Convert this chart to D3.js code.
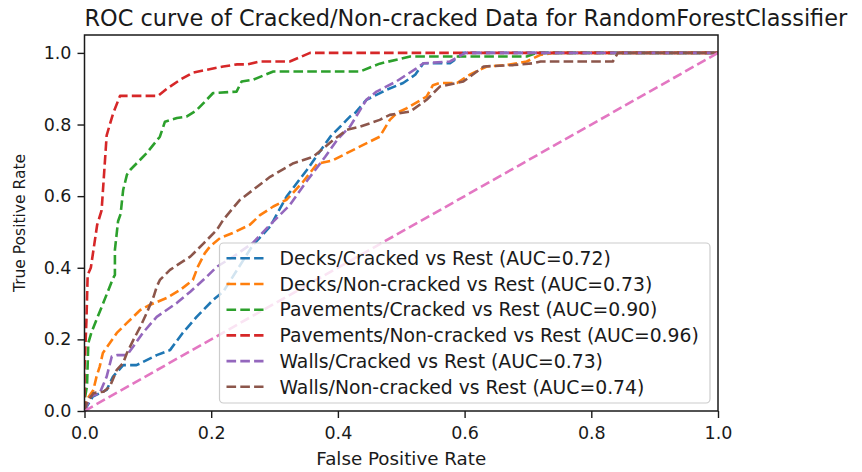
<!DOCTYPE html>
<html><head><meta charset="utf-8">
<script src="https://cdn.jsdelivr.net/npm/d3@7"></script>
<style>
body{margin:0;background:#fff;}
text{font-family:"DejaVu Sans",sans-serif;fill:#1a1a1a;}
</style>
</head><body>
<svg id="chart" width="862" height="472"></svg>
<script>
// ---------- data ----------
const chartTitle = "ROC curve of Cracked/Non-cracked Data for RandomForestClassifier";
const xLabel = "False Positive Rate";
const yLabel = "True Positive Rate";
const seriesNames = ["Decks/Cracked", "Decks/Non-cracked", "Pavements/Cracked",
  "Pavements/Non-cracked", "Walls/Cracked", "Walls/Non-cracked"];
const aucValues = [0.72, 0.73, 0.90, 0.96, 0.73, 0.74];
const seriesColors = ["#1f77b4", "#ff7f0e", "#2ca02c", "#d62728", "#9467bd", "#8c564b"];
const chanceColor = "#e377c2";
const xTicks = [0, 0.2, 0.4, 0.6, 0.8, 1.0];
const yTicks = [0, 0.2, 0.4, 0.6, 0.8, 1.0];

// [fpr, tpr]
const decksCracked = [[0,0],[0.0035,0.012],[0.013,0.04],[0.035,0.059],[0.045,0.096],[0.061,0.128],[0.082,0.128],
  [0.114,0.156],[0.135,0.17],[0.155,0.218],[0.177,0.263],[0.203,0.31],[0.219,0.333],[0.266,0.464],[0.293,0.515],
  [0.319,0.599],[0.351,0.673],[0.388,0.766],[0.414,0.813],[0.419,0.822],[0.427,0.832],[0.445,0.869],[0.477,0.897],
  [0.503,0.916],[0.522,0.939],[0.535,0.971],[0.577,0.971],[0.588,0.985],[0.597,1.0],[1,1]];
const decksNonCracked = [[0,0],[0.0035,0.031],[0.014,0.059],[0.019,0.096],[0.024,0.124],[0.029,0.162],[0.04,0.19],
  [0.051,0.218],[0.067,0.246],[0.077,0.263],[0.088,0.282],[0.103,0.296],[0.13,0.316],[0.151,0.338],[0.171,0.366],
  [0.179,0.403],[0.19,0.441],[0.198,0.459],[0.214,0.483],[0.234,0.497],[0.261,0.52],[0.277,0.547],[0.298,0.571],
  [0.319,0.59],[0.345,0.64],[0.367,0.69],[0.392,0.70],[0.414,0.72],[0.44,0.743],[0.466,0.766],[0.482,0.813],
  [0.493,0.832],[0.509,0.846],[0.54,0.878],[0.55,0.91],[0.561,0.916],[0.588,0.916],[0.608,0.939],[0.635,0.962],
  [0.666,0.966],[0.698,0.976],[0.719,0.994],[0.74,1.0],[1,1]];
const pavementsCracked = [[0,0],[0,0.03],[0.004,0.07],[0.006,0.19],[0.011,0.22],[0.027,0.29],[0.045,0.37],
  [0.048,0.38],[0.048,0.45],[0.053,0.53],[0.057,0.55],[0.061,0.617],[0.067,0.66],[0.072,0.673],[0.077,0.682],
  [0.098,0.72],[0.119,0.766],[0.127,0.808],[0.146,0.818],[0.161,0.822],[0.177,0.84],[0.203,0.888],[0.24,0.892],
  [0.248,0.92],[0.266,0.925],[0.298,0.948],[0.435,0.948],[0.466,0.97],[0.514,0.99],[0.698,0.99],[0.714,1.0],[1,1]];
const pavementsNonCracked = [[0,0],[0,0.12],[0.003,0.25],[0.005,0.38],[0.01,0.40],[0.02,0.52],[0.027,0.56],
  [0.035,0.77],[0.045,0.83],[0.056,0.88],[0.116,0.88],[0.13,0.90],[0.151,0.925],[0.171,0.945],[0.193,0.953],
  [0.219,0.962],[0.241,0.968],[0.257,0.968],[0.277,0.976],[0.324,0.976],[0.356,1.0],[1,1]];
const wallsCracked = [[0,0],[0.005,0.02],[0.009,0.04],[0.024,0.05],[0.035,0.096],[0.043,0.152],[0.051,0.156],
  [0.067,0.156],[0.077,0.18],[0.092,0.218],[0.114,0.263],[0.146,0.302],[0.167,0.333],[0.193,0.375],[0.209,0.403],
  [0.235,0.431],[0.266,0.47],[0.293,0.52],[0.324,0.575],[0.35,0.64],[0.38,0.71],[0.40,0.76],[0.419,0.794],
  [0.445,0.869],[0.461,0.892],[0.492,0.92],[0.524,0.957],[0.535,0.971],[0.577,0.976],[0.601,1.0],[1,1]];
const wallsNonCracked = [[0,0],[0.0035,0.022],[0.014,0.05],[0.03,0.054],[0.04,0.068],[0.051,0.115],[0.061,0.134],
  [0.067,0.162],[0.077,0.198],[0.088,0.235],[0.098,0.273],[0.109,0.319],[0.114,0.347],[0.119,0.366],[0.135,0.394],
  [0.151,0.413],[0.167,0.431],[0.188,0.468],[0.209,0.506],[0.219,0.534],[0.245,0.589],[0.293,0.654],[0.33,0.692],
  [0.361,0.71],[0.393,0.757],[0.414,0.785],[0.435,0.794],[0.466,0.813],[0.482,0.827],[0.514,0.836],[0.54,0.869],
  [0.561,0.906],[0.598,0.92],[0.63,0.962],[0.677,0.966],[0.708,0.971],[0.72,0.976],[0.834,0.976],[0.842,1.0],[1,1]];
const chanceLine = [[0,0],[1,1]];

const seriesData = [decksCracked, decksNonCracked, pavementsCracked, pavementsNonCracked, wallsCracked, wallsNonCracked];

// ---------- layout ----------
const svg = d3.select("#chart");
const plot = {left: 84.5, right: 718, top: 35, bottom: 411};
const x = d3.scaleLinear().domain([0, 1]).range([plot.left, plot.right]);
const y = d3.scaleLinear().domain([0, 1.05]).range([plot.bottom, plot.top]);

const lineWidth = 2.6;
const dash = "9.6,4.2";

const line = d3.line().x(d => x(d[0])).y(d => y(d[1]));

svg.append("clipPath").attr("id", "clip").append("rect")
  .attr("x", plot.left).attr("y", plot.top - 2)
  .attr("width", plot.right - plot.left + 2).attr("height", plot.bottom - plot.top + 4);

const lines = svg.append("g").attr("clip-path", "url(#clip)");
seriesData.forEach((d, i) => {
  lines.append("path").datum(d).attr("d", line)
    .attr("fill", "none").attr("stroke", seriesColors[i])
    .attr("stroke-width", lineWidth).attr("stroke-dasharray", dash)
    .attr("stroke-linejoin", "round");
});
lines.append("path").datum(chanceLine).attr("d", line)
  .attr("fill", "none").attr("stroke", chanceColor)
  .attr("stroke-width", lineWidth).attr("stroke-dasharray", dash);

// ---------- axes ----------
const fmt = d3.format(".1f");
const xAxis = svg.append("g").attr("transform", `translate(0,${plot.bottom})`)
  .call(d3.axisBottom(x).tickValues(xTicks).tickFormat(fmt).tickSize(7).tickPadding(9));
const yAxis = svg.append("g").attr("transform", `translate(${plot.left},0)`)
  .call(d3.axisLeft(y).tickValues(yTicks).tickFormat(fmt).tickSize(7).tickPadding(6));
[xAxis, yAxis].forEach(g => {
  g.select(".domain").remove();
  g.selectAll(".tick line").attr("stroke", "#1a1a1a").attr("stroke-width", 1.4);
  g.selectAll(".tick text").attr("font-size", 17.5).attr("font-family", "DejaVu Sans").attr("fill", "#1a1a1a");
});

// spines
svg.append("rect").attr("x", plot.left).attr("y", plot.top)
  .attr("width", plot.right - plot.left).attr("height", plot.bottom - plot.top)
  .attr("fill", "none").attr("stroke", "#1a1a1a").attr("stroke-width", 1.5);

// labels
svg.append("text").attr("x", plot.left).attr("y", 26).attr("font-size", 22.4).text(chartTitle);
svg.append("text").attr("x", (plot.left + plot.right) / 2).attr("y", 465)
  .attr("text-anchor", "middle").attr("font-size", 18.3).text(xLabel);
svg.append("text").attr("transform", `translate(25,${(plot.top + plot.bottom) / 2}) rotate(-90)`)
  .attr("text-anchor", "middle").attr("font-size", 15.5).text(yLabel);

// ---------- legend ----------
const leg = {x: 219.5, y: 243, w: 490.5, h: 160, rowY: 258.3, pitch: 25.7};
svg.append("rect").attr("x", leg.x).attr("y", leg.y).attr("width", leg.w).attr("height", leg.h)
  .attr("rx", 4).attr("fill", "#fff").attr("fill-opacity", 0.8)
  .attr("stroke", "#cccccc").attr("stroke-width", 1.2);
seriesNames.forEach((name, i) => {
  const cy = leg.rowY + i * leg.pitch;
  svg.append("line").attr("x1", leg.x + 7).attr("x2", leg.x + 44).attr("y1", cy).attr("y2", cy)
    .attr("stroke", seriesColors[i]).attr("stroke-width", lineWidth).attr("stroke-dasharray", dash);
  svg.append("text").attr("x", leg.x + 60).attr("y", cy).attr("dy", "0.36em")
    .attr("font-size", 18.8).text(`${name} vs Rest (AUC=${aucValues[i].toFixed(2)})`);
});
</script>
</body></html>
